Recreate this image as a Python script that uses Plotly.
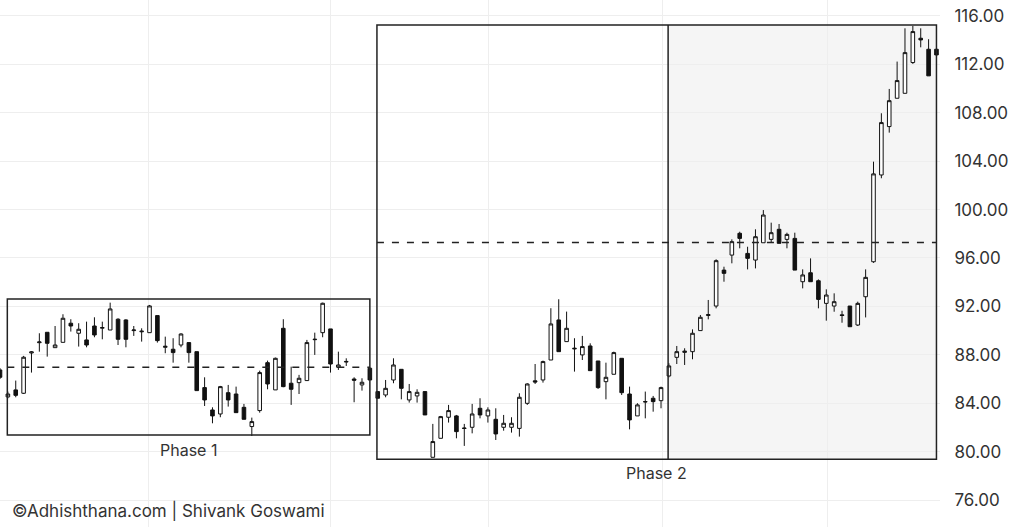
import plotly.graph_objects as go

# ---- data (daily candles) ----
opens = [86.75, 84.52, 85.10, 84.82, 88.15, 89.00, 89.86, 88.59, 89.03, 90.61,
         89.78, 89.23, 90.38, 90.20, 90.05, 90.94, 90.88, 90.00, 89.90, 89.83,
         91.24, 88.62, 88.46, 88.81, 89.01, 88.26, 85.29, 83.44, 83.11, 84.87,
         84.76, 83.66, 82.07, 83.39, 87.35, 85.10, 90.19, 85.65, 85.70, 85.87,
         89.25, 89.83, 90.14, 86.97, 87.40, 86.00, 85.51, 86.89, 84.96, 84.68,
         85.92, 86.80, 84.27, 84.60, 84.96, 79.53, 81.10, 82.84, 82.95, 81.95,
         82.01, 83.58, 82.95, 82.67, 82.01, 82.01, 81.92, 83.99, 85.85, 85.92,
         87.57, 90.88, 89.09, 88.55, 87.99, 88.73, 87.49, 85.78, 86.39, 87.71,
         84.76, 82.95, 84.10, 84.41, 84.21, 86.25, 87.79, 88.20, 88.26, 90.00,
         91.25, 92.03, 95.00, 96.24, 98.04, 96.38, 95.83, 97.26, 97.54, 98.37,
         97.54, 97.62, 94.04, 94.78, 94.12, 92.25, 92.03, 91.30, 92.03, 90.46,
         92.80, 95.69, 102.86, 106.86, 109.20, 109.61, 112.15, 114.16, 113.25, 113.25]
highs = [86.90, 84.96, 85.87, 87.91, 88.30, 89.78, 89.86, 90.38, 91.35, 90.94,
         90.61, 90.74, 91.10, 90.74, 92.31, 91.02, 90.94, 90.38, 90.19, 92.12,
         91.24, 89.50, 89.37, 89.78, 89.01, 88.26, 86.14, 83.66, 85.43, 85.51,
         85.37, 83.94, 82.81, 86.69, 87.52, 87.77, 90.94, 87.02, 86.34, 89.23,
         89.83, 92.31, 90.14, 88.26, 87.71, 86.14, 86.06, 86.97, 85.00, 85.92,
         87.71, 86.80, 85.59, 85.15, 84.96, 82.29, 82.95, 83.86, 83.03, 82.29,
         83.94, 84.41, 83.66, 83.58, 83.03, 82.84, 84.82, 85.65, 87.24, 87.52,
         91.85, 92.59, 91.57, 89.37, 89.56, 88.95, 87.49, 87.35, 88.26, 87.71,
         85.37, 84.00, 84.96, 84.60, 85.37, 87.30, 88.73, 88.54, 90.10, 91.29,
         92.53, 95.89, 95.28, 97.54, 98.17, 96.93, 98.37, 99.96, 98.92, 98.81,
         98.09, 98.09, 95.06, 95.97, 94.23, 93.41, 93.08, 91.64, 92.03, 92.39,
         95.06, 103.96, 107.96, 109.97, 112.23, 114.98, 115.18, 114.98, 114.08, 113.25]
lows = [86.00, 84.41, 84.49, 84.76, 86.53, 88.26, 87.85, 88.59, 89.03, 89.92,
        88.68, 88.62, 89.45, 89.28, 90.05, 88.81, 88.62, 89.56, 89.09, 89.83,
        89.01, 88.13, 87.35, 88.62, 87.35, 85.04, 83.77, 82.34, 82.84, 83.72,
        83.22, 82.67, 81.29, 83.22, 85.15, 85.10, 85.32, 83.86, 84.76, 85.87,
        87.99, 89.45, 86.53, 86.75, 87.08, 84.08, 85.04, 85.92, 84.41, 84.49,
        85.65, 84.32, 84.05, 84.05, 83.03, 79.53, 81.10, 82.40, 81.10, 80.47,
        81.51, 82.75, 82.40, 80.96, 81.73, 81.57, 81.24, 83.86, 85.59, 85.70,
        87.57, 88.26, 89.09, 86.61, 87.57, 86.69, 85.18, 84.32, 86.39, 84.68,
        81.84, 82.95, 82.75, 83.30, 83.58, 86.14, 87.24, 87.16, 87.63, 90.00,
        90.93, 91.84, 94.04, 95.56, 96.80, 95.06, 95.14, 97.26, 97.26, 97.21,
        96.80, 95.00, 93.49, 94.04, 91.84, 90.82, 91.56, 90.65, 90.32, 90.38,
        91.09, 95.60, 102.59, 106.36, 109.20, 109.61, 112.04, 113.41, 111.05, 112.78]
closes = [86.14, 84.76, 84.65, 87.80, 88.24, 89.06, 88.95, 88.81, 91.02, 90.38,
          90.11, 88.81, 89.64, 90.25, 91.79, 89.28, 89.28, 90.05, 89.95, 92.04,
          89.17, 88.70, 88.18, 89.72, 88.18, 85.04, 84.27, 82.95, 85.37, 84.27,
          83.22, 82.67, 82.48, 86.53, 85.59, 87.71, 85.37, 85.15, 86.06, 89.01,
          89.28, 92.26, 87.24, 87.16, 87.45, 85.90, 85.73, 85.92, 84.41, 85.23,
          87.16, 85.23, 84.96, 84.90, 83.03, 80.83, 82.89, 83.39, 81.65, 81.92,
          83.11, 83.03, 83.44, 81.46, 82.34, 82.34, 84.49, 85.59, 85.75, 87.44,
          90.55, 88.26, 90.19, 88.50, 88.68, 86.69, 85.29, 86.14, 88.18, 84.87,
          82.62, 83.86, 84.13, 84.13, 85.29, 87.08, 88.26, 88.30, 89.78, 91.10,
          91.32, 95.78, 94.73, 97.35, 97.62, 95.97, 97.76, 99.55, 98.09, 97.21,
          97.95, 95.00, 94.60, 94.04, 92.58, 92.94, 92.39, 91.25, 90.32, 92.25,
          94.40, 102.95, 107.19, 109.00, 110.66, 112.97, 114.71, 114.02, 111.05, 112.78]

bar_index = list(range(len(opens)))

# phase zones (bar index span) and their reference levels
phase_names = ["Phase 1", "Phase 2"]
phase_start = [0.93, 47.9]
phase_end = [47.0, 119.0]
phase_top = [92.61, 115.26]
phase_bottom = [81.37, 79.36]
phase_level = [86.97, 97.28]
phase2_split = 84.9

# month gridlines (bar index) and price ticks
grid_x = [18.85, 41.95, 62.05, 84.15, 105.1]
price_ticks = [76, 80, 84, 88, 92, 96, 100, 104, 108, 112, 116]
price_labels = [f"{v:.2f}" for v in price_ticks]

FONT = "Inter, Roboto, sans-serif"
INK = "#222222"

fig = go.Figure()
fig.add_trace(go.Candlestick(
    x=bar_index, open=opens, high=highs, low=lows, close=closes,
    increasing=dict(line=dict(color="#111111", width=1), fillcolor="#ffffff"),
    decreasing=dict(line=dict(color="#111111", width=1), fillcolor="#111111"),
    whiskerwidth=0, showlegend=False, hoverinfo="skip",
))

shapes = []
# shaded right part of phase 2
shapes.append(dict(type="rect", xref="x", yref="y", layer="below",
                   x0=phase2_split, x1=phase_end[1], y0=phase_bottom[1], y1=phase_top[1],
                   fillcolor="#f5f5f5", line=dict(width=0)))
for i in range(2):
    shapes.append(dict(type="rect", xref="x", yref="y", layer="above",
                       x0=phase_start[i], x1=phase_end[i], y0=phase_bottom[i], y1=phase_top[i],
                       line=dict(color=INK, width=1.5), fillcolor="rgba(0,0,0,0)"))
    shapes.append(dict(type="line", xref="x", yref="y", layer="above",
                       x0=phase_start[i], x1=phase_end[i], y0=phase_level[i], y1=phase_level[i],
                       line=dict(color=INK, width=1.5, dash="7px,8px")))
shapes.append(dict(type="line", xref="x", yref="y", layer="above",
                   x0=phase2_split, x1=phase2_split, y0=phase_bottom[1], y1=phase_top[1],
                   line=dict(color=INK, width=1.5)))

annotations = []
label_y = [80.17, 78.23]
for i in range(2):
    annotations.append(dict(x=(phase_start[i] + phase_end[i]) / 2, y=label_y[i],
                            xref="x", yref="y", text=phase_names[i], showarrow=False,
                            font=dict(family=FONT, size=16, color="#333333"),
                            xanchor="center", yanchor="middle"))
annotations.append(dict(x=10 / 940, y=75.1, xref="paper", yref="y",
                        text="©Adhishthana.com | Shivank Goswami", showarrow=False,
                        font=dict(family=FONT, size=17, color="#333333"),
                        xanchor="left", yanchor="middle"))

fig.update_layout(
    width=1024, height=527, autosize=False,
    margin=dict(l=0, r=84, t=0, b=0),
    paper_bgcolor="#ffffff", plot_bgcolor="#ffffff",
    shapes=shapes, annotations=annotations,
    boxgap=0.35,
    xaxis=dict(range=[0.0, 119.45], tickvals=grid_x, showticklabels=False,
               showgrid=True, gridcolor="#eeeeee", gridwidth=1, zeroline=False,
               showline=False, ticks="", rangeslider=dict(visible=False)),
    yaxis=dict(side="right", range=[73.77, 117.32], tickvals=price_ticks, ticktext=price_labels,
               showgrid=True, gridcolor="#eeeeee", gridwidth=1, zeroline=False, showline=False,
               ticks="outside", ticklen=10, tickcolor="rgba(0,0,0,0)",
               tickfont=dict(family=FONT, size=17, color="#333333")),
)

fig.write_html("out.html", config={"displayModeBar": False},
               post_script="document.body.style.margin='0';")
